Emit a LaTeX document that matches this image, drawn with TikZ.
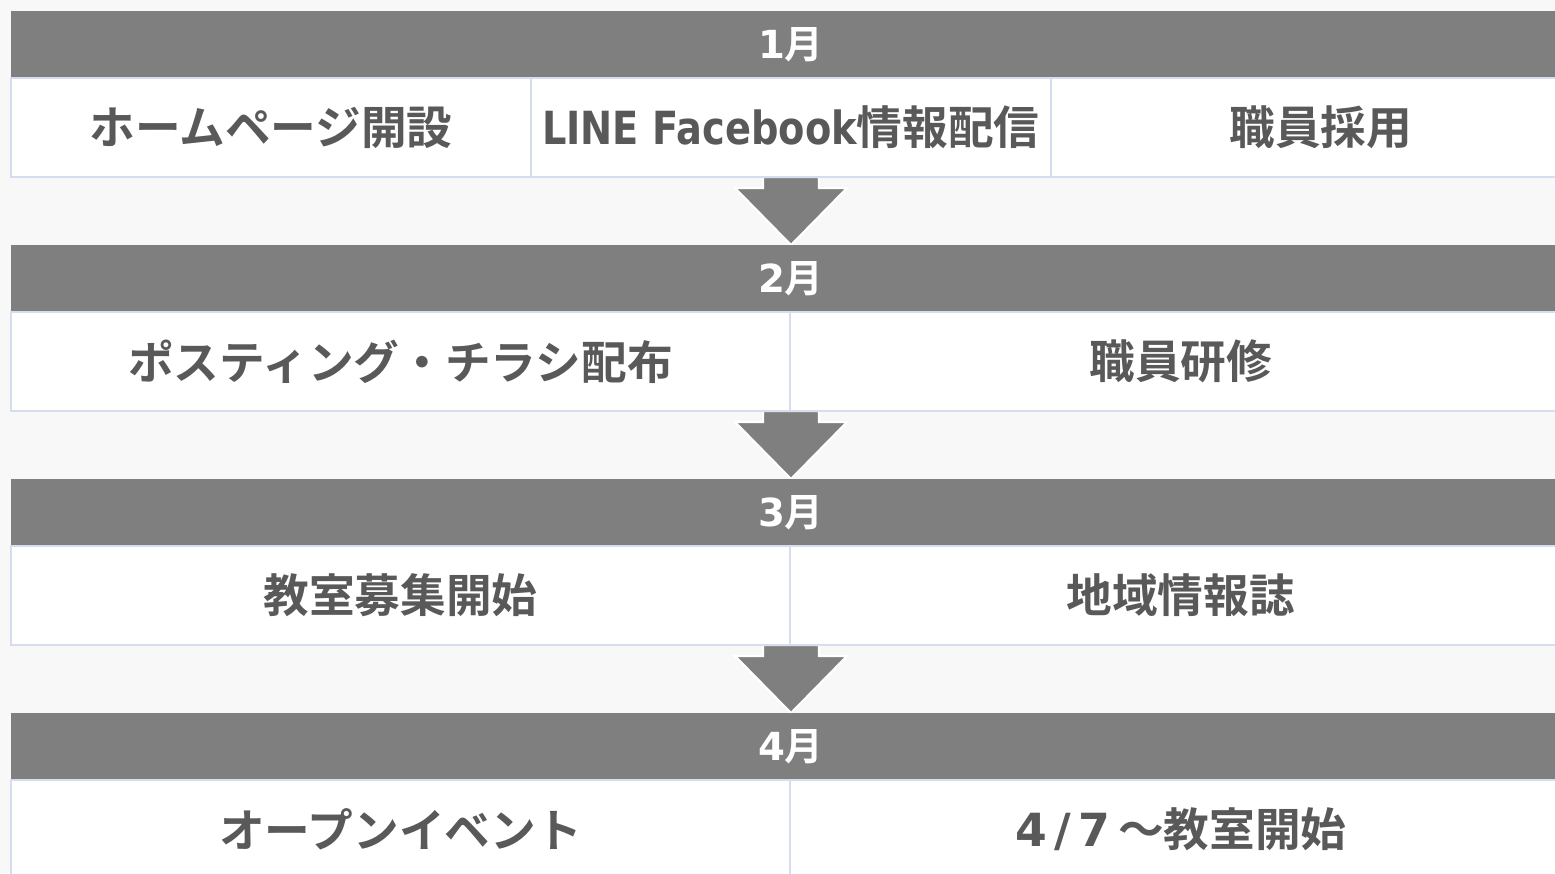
\documentclass[tikz,border=0pt]{standalone}
\usepackage{fontspec}
\setmainfont{Noto Sans CJK JP}[BoldFont={Noto Sans CJK JP Bold}]
\newfontfamily\latinfont{DejaVu Sans}
\usetikzlibrary{
positioning,
calc,
}
\definecolor{bgpaper}{HTML}{F8F8F8}
\definecolor{bargray}{HTML}{7F7F7F}
\definecolor{cellline}{HTML}{D5DDEE}
\definecolor{inkgray}{HTML}{595959}
\tikzset{
x=0.02cm, y=-0.02cm,
outer sep=0pt,
node distance=0pt,
month/.style={rectangle, fill=bargray, text=white, anchor=north west,
  minimum width=31.2cm, minimum height=1.34cm, inner sep=0pt,
  font=\fontsize{22}{26}\selectfont\bfseries},
task/.style={rectangle, fill=white, draw=cellline, line width=1.1pt,
  text=inkgray, minimum height=1.98cm, inner sep=0pt,
  font=\fontsize{26}{31}\selectfont\bfseries},
flow/.style={fill=bargray, draw=white, line width=1.2pt, line join=miter},
}

\begin{document}
\begin{tikzpicture}
\clip (0,0) rectangle (1555,873);
\fill [bgpaper] (0,0) rectangle (1555,873);
% arrow end points
\coordinate (s1) at (791,177);
\coordinate (t2) at (791,245);
\coordinate (s2) at (791,411);
\coordinate (t3) at (791,479);
\coordinate (s3) at (791,645);
\coordinate (t4) at (791,713);
\foreach \i/\j in {1/2,2/3,3/4}
  \path [flow] ($(s\i)+(-28,0)$) -- ($(s\i)+(-28,11)$) -- ($(s\i)+(-56,11)$)
    -- (t\j) -- ($(s\i)+(56,11)$) -- ($(s\i)+(28,11)$) -- ($(s\i)+(28,0)$) -- cycle;
% January
\node (h1) [month] at (11,11) {{\latinfont 1}月};
\node (c11) [task, minimum width=10.4cm, anchor=north west] at (h1.south west) {ホームページ開設};
\node (c12) [task, minimum width=10.4cm, right=of c11] {\scalebox{0.84}[1]{\latinfont LINE Facebook}情報配信};
\node (c13) [task, minimum width=10.8cm, right=of c12] {職員採用};
% February
\node (h2) [month] at (11,245) {{\latinfont 2}月};
\node (c21) [task, minimum width=15.58cm, anchor=north west] at (h2.south west) {ポスティング・チラシ配布};
\node (c22) [task, minimum width=15.64cm, right=of c21] {職員研修};
% March
\node (h3) [month] at (11,479) {{\latinfont 3}月};
\node (c31) [task, minimum width=15.58cm, anchor=north west] at (h3.south west) {教室募集開始};
\node (c32) [task, minimum width=15.64cm, right=of c31] {地域情報誌};
% April
\node (h4) [month] at (11,713) {{\latinfont 4}月};
\node (c41) [task, minimum width=15.58cm, anchor=north west] at (h4.south west) {オープンイベント};
\node (c42) [task, minimum width=15.64cm, right=of c41] {{\latinfont 4\,/\,7\,}～教室開始};
\end{tikzpicture}
\end{document}
